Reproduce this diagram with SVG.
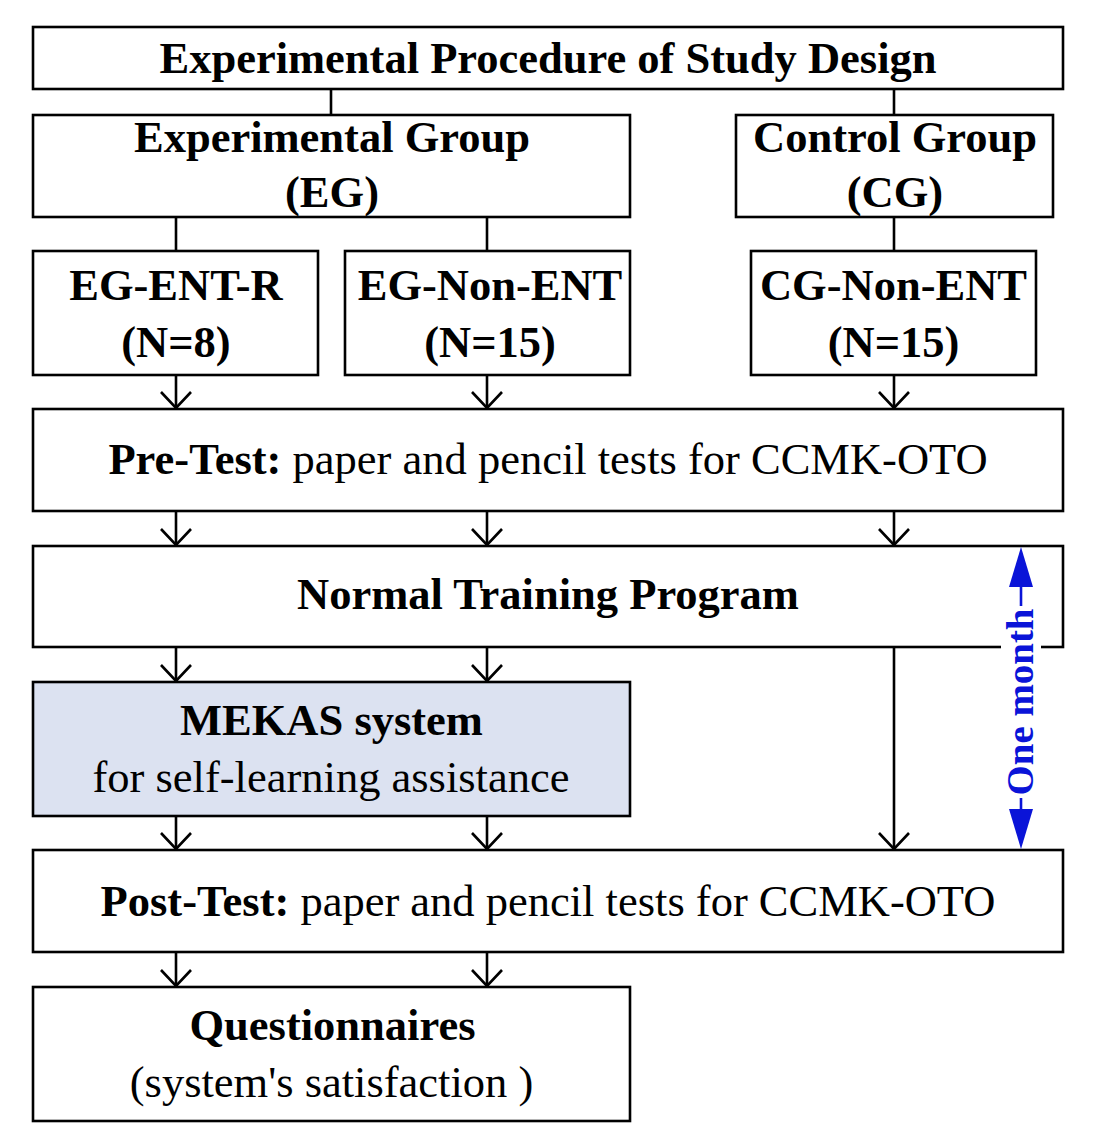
<svg xmlns="http://www.w3.org/2000/svg" width="1100" height="1130" viewBox="0 0 1100 1130">
<style>
.box{fill:#fff;stroke:#000;stroke-width:2.6}
.blue{fill:#dce2f1}
.t{font-family:"Liberation Serif","Times New Roman",serif;font-size:44.5px;fill:#000;text-anchor:middle}
.b{font-weight:bold}
.c{stroke:#000;stroke-width:2.6;fill:none}
</style>
<defs>
<marker id="ar" viewBox="0 0 32 18" refX="16" refY="17" markerWidth="32" markerHeight="18" markerUnits="userSpaceOnUse" orient="0">
<path d="M1,1 L16,17 L31,1" fill="none" stroke="#000" stroke-width="2.6"/>
</marker>
</defs>
<rect width="1100" height="1130" fill="#fff"/>
<g id="connectors">
<line class="c" x1="331" y1="89" x2="331" y2="115"/>
<line class="c" x1="894" y1="89" x2="894" y2="115"/>
<line class="c" x1="176" y1="217" x2="176" y2="251"/>
<line class="c" x1="487" y1="217" x2="487" y2="251"/>
<line class="c" x1="894" y1="217" x2="894" y2="251"/>
<line class="c" x1="176" y1="375" x2="176" y2="408" marker-end="url(#ar)"/>
<line class="c" x1="487" y1="375" x2="487" y2="408" marker-end="url(#ar)"/>
<line class="c" x1="894" y1="375" x2="894" y2="408" marker-end="url(#ar)"/>
<line class="c" x1="176" y1="511" x2="176" y2="545" marker-end="url(#ar)"/>
<line class="c" x1="487" y1="511" x2="487" y2="545" marker-end="url(#ar)"/>
<line class="c" x1="894" y1="511" x2="894" y2="545" marker-end="url(#ar)"/>
<line class="c" x1="176" y1="647" x2="176" y2="681" marker-end="url(#ar)"/>
<line class="c" x1="487" y1="647" x2="487" y2="681" marker-end="url(#ar)"/>
<line class="c" x1="894" y1="647" x2="894" y2="849" marker-end="url(#ar)"/>
<line class="c" x1="176" y1="816" x2="176" y2="849" marker-end="url(#ar)"/>
<line class="c" x1="487" y1="816" x2="487" y2="849" marker-end="url(#ar)"/>
<line class="c" x1="176" y1="952" x2="176" y2="986" marker-end="url(#ar)"/>
<line class="c" x1="487" y1="952" x2="487" y2="986" marker-end="url(#ar)"/>
</g>
<g id="title"><rect class="box" x="33" y="27" width="1030" height="62"/>
<text class="t b" x="548" y="73">Experimental Procedure of Study Design</text></g>
<g id="eg"><rect class="box" x="33" y="115" width="597" height="102"/>
<text class="t b" x="332" y="152">Experimental Group</text>
<text class="t b" x="332" y="207">(EG)</text></g>
<g id="cg"><rect class="box" x="736" y="115" width="317" height="102"/>
<text class="t b" x="895" y="152">Control Group</text>
<text class="t b" x="895" y="207">(CG)</text></g>
<g id="eg-ent-r"><rect class="box" x="33" y="251" width="285" height="124"/>
<text class="t b" x="176" y="300">EG-ENT-R</text>
<text class="t b" x="176" y="357">(N=8)</text></g>
<g id="eg-non-ent"><rect class="box" x="345" y="251" width="285" height="124"/>
<text class="t b" x="490" y="300">EG-Non-ENT</text>
<text class="t b" x="490" y="357">(N=15)</text></g>
<g id="cg-non-ent"><rect class="box" x="751" y="251" width="285" height="124"/>
<text class="t b" x="893.5" y="300">CG-Non-ENT</text>
<text class="t b" x="893.5" y="357">(N=15)</text></g>
<g id="pretest"><rect class="box" x="33" y="409" width="1030" height="102"/>
<text class="t" x="548" y="474"><tspan class="b">Pre-Test:</tspan> paper and pencil tests for CCMK-OTO</text></g>
<g id="normal"><rect class="box" x="33" y="546" width="1030" height="101"/>
<text class="t b" x="548" y="609">Normal Training Program</text></g>
<g id="mekas"><rect class="box blue" x="33" y="682" width="597" height="134"/>
<text class="t b" x="331.5" y="735">MEKAS system</text>
<text class="t" x="331" y="792">for self-learning assistance</text></g>
<g id="posttest"><rect class="box" x="33" y="850" width="1030" height="102"/>
<text class="t" x="548" y="916"><tspan class="b">Post-Test:</tspan> paper and pencil tests for CCMK-OTO</text></g>
<g id="quest"><rect class="box" x="33" y="987" width="597" height="134"/>
<text class="t b" x="332.5" y="1040">Questionnaires</text>
<text class="t" x="331.5" y="1097">(system's satisfaction )</text></g>
<g id="one-month">
<line x1="1021" y1="580" x2="1021" y2="816" stroke="#0a14d8" stroke-width="2.6"/>
<path d="M1021,547 L1009,587 L1033,587 Z" fill="#0a14d8"/>
<path d="M1021,849 L1009,809 L1033,809 Z" fill="#0a14d8"/>
<rect x="1001" y="606" width="40" height="192" fill="#fff"/>
<text transform="translate(1033,702) rotate(-90)" font-family="Liberation Serif, Times New Roman, serif" font-size="38" font-weight="bold" fill="#0a14d8" text-anchor="middle" textLength="187" lengthAdjust="spacingAndGlyphs">One month</text>
</g>
</svg>
